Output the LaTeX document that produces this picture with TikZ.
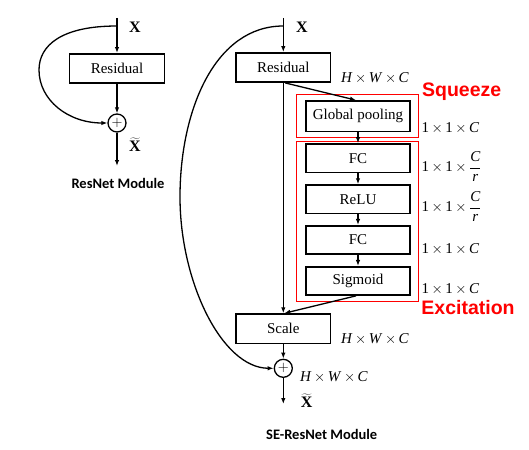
\documentclass[tikz,border=0pt]{standalone}
\usepackage{fontspec}
\setmainfont{Liberation Serif}
\newfontfamily\titlefont{Carlito}
\newfontfamily\redfont{Liberation Sans}
\usetikzlibrary{arrows.meta}
\newcommand{\dimtxt}[3]{#1\,$\times$\,#2\,$\times$\,#3}
\newcommand{\itC}{\textit{C}}
\tikzset{
  blk/.style={draw, line width=1.6pt, minimum width=94.7pt, minimum height=29.3pt, inner sep=0pt, font=\fontsize{15}{17}\selectfont},
  seblk/.style={blk, minimum width=104.3pt, minimum height=28.3pt},
  sumnode/.style={draw, circle, line width=1.3pt, minimum size=18pt, inner sep=0pt, font=\fontsize{14}{16}\selectfont},
  arr/.style={-{Latex[length=6pt,width=4.5pt]}, line width=1.3pt},
  redbox/.style={draw=red, line width=0.9pt},
  dimlab/.style={font=\fontsize{15}{17}\selectfont, inner sep=0pt},
  xlab/.style={font=\fontsize{16}{18}\selectfont\bfseries, inner sep=0pt},
  modtitle/.style={font=\titlefont\bfseries\fontsize{14.5}{16}\selectfont, inner sep=0pt},
  redlab/.style={font=\redfont\bfseries\fontsize{19.5}{21}\selectfont, text=red, inner sep=0pt}
}
\begin{document}
\begin{tikzpicture}[x=1pt,y=-1pt]
\useasboundingbox (0,0) rectangle (529,449);
% ---------- ResNet module ----------
\coordinate (lin) at (117,18);
\coordinate (ls) at (117,26);
\node[blk] (res1) at (117,68.5) {Residual};
\node[sumnode] (plus1) at (117,123) {$+$};
\coordinate (lout) at (117,166);
\node[xlab] (lx) at (135,27) {X};
\node[xlab] (lxt) at (135,145) {$\widetilde{\textbf{X}}$};
\node[modtitle] (ltitle) at (118,183) {ResNet Module};
\draw[arr] (lin) -- (res1.north);
\draw[arr] (res1.south) -- (plus1.north);
\draw[arr] (plus1.south) -- (lout);
\draw[arr] (ls) .. controls (62,26) and (39,45) .. (39,70)
  .. controls (39,100) and (68,123) .. (plus1.west);
% ---------- SE-ResNet module ----------
\coordinate (rin) at (283.3,18);
\coordinate (rs) at (283.3,26);
\node[blk] (res2) at (283.3,67.5) {Residual};
\node[seblk, minimum height=30.7pt] (gp) at (358,116.3) {Global pooling};
\node[seblk] (fc1) at (358,158.2) {FC};
\node[seblk] (relu) at (358,199.2) {ReLU};
\node[seblk] (fc2) at (358,239.9) {FC};
\node[seblk] (sig) at (358,280.9) {Sigmoid};
\node[blk] (scale) at (283.3,328.7) {Scale};
\node[sumnode] (plus2) at (283.3,368.3) {$+$};
\coordinate (rout) at (283.3,404);
\node[xlab] (rx) at (302,27) {X};
\node[xlab] (rxt) at (306.7,401) {$\widetilde{\textbf{X}}$};
\node[modtitle] (rtitle) at (321.7,434.3) {SE-ResNet Module};
% red groups
\draw[redbox] (296.7,94.3) rectangle (418.3,137.7);
\draw[redbox] (296.7,141.7) rectangle (418.3,301);
\node[redlab] (sq) at (461.7,91.7) {Squeeze};
\node[redlab] (ex) at (468,308) {Excitation};
% dimension labels
\node[dimlab] (d1) at (375,77.7) {\dimtxt{\textit{H}}{\textit{W}}{\itC}};
\node[dimlab, anchor=west] (d2) at (421.5,127.7) {\dimtxt{1}{1}{\itC}};
\node[dimlab, anchor=west] (d3) at (421.5,166.7) {\dimtxt{1}{1}{$\displaystyle\frac{\textit{C}}{\textit{r}}$}};
\node[dimlab, anchor=west] (d4) at (421.5,206.7) {\dimtxt{1}{1}{$\displaystyle\frac{\textit{C}}{\textit{r}}$}};
\node[dimlab, anchor=west] (d5) at (421.5,249.3) {\dimtxt{1}{1}{\itC}};
\node[dimlab, anchor=west] (d6) at (421.5,289.3) {\dimtxt{1}{1}{\itC}};
\node[dimlab] (d7) at (375,339.3) {\dimtxt{\textit{H}}{\textit{W}}{\itC}};
\node[dimlab] (d8) at (334,376.7) {\dimtxt{\textit{H}}{\textit{W}}{\itC}};
% connectors
\draw[arr] (rin) -- (res2.north);
\draw[arr] (res2.south) -- (scale.north);
\draw[arr] ([xshift=2pt]res2.south) -- ([xshift=-2pt]gp.north);
\draw[arr] (gp.south) -- (fc1.north);
\draw[arr] (fc1.south) -- (relu.north);
\draw[arr] (relu.south) -- (fc2.north);
\draw[arr] (fc2.south) -- (sig.north);
\draw[arr] ([xshift=-2pt]sig.south) -- ([xshift=1pt]scale.north);
\draw[arr] (scale.south) -- (plus2.north);
\draw[arr] (plus2.south) -- (rout);
\draw[arr] (rs) .. controls (215,26) and (180,110) .. (180,197)
  .. controls (180,282) and (222,368) .. (plus2.west);
\end{tikzpicture}
\end{document}
